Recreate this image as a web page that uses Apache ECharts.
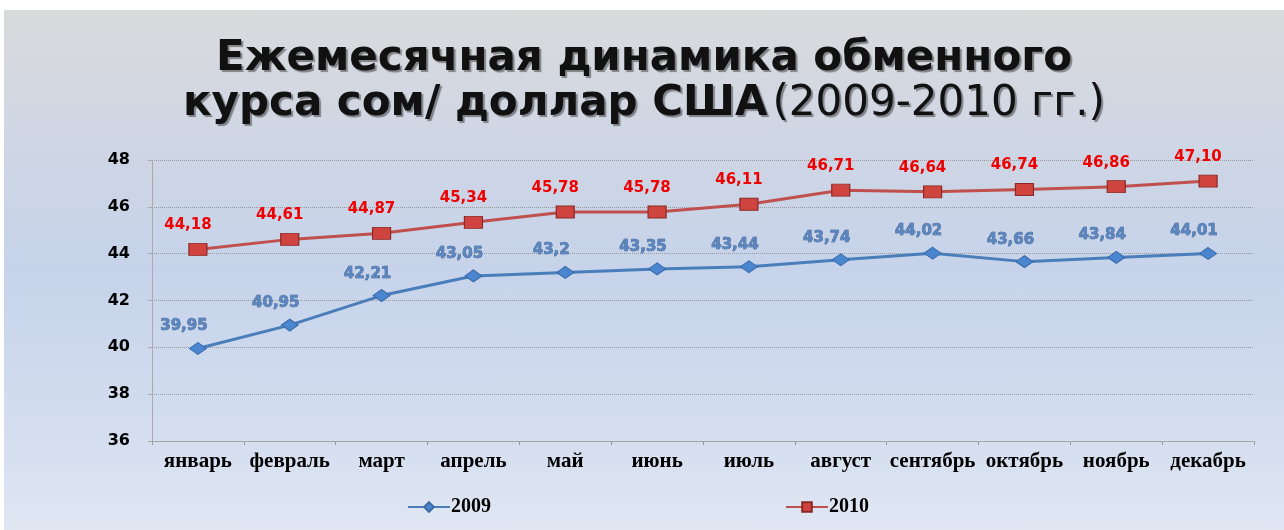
<!DOCTYPE html>
<html>
<head>
<meta charset="utf-8">
<script src="https://cdn.jsdelivr.net/npm/echarts@6/dist/echarts.min.js"></script>
<style>
  html, body { margin: 0; padding: 0; background: #fff; }
  #chart {
    position: absolute; left: 4px; top: 10px; width: 1280px; height: 520px;
    background: linear-gradient(to bottom, #d9dadc 0%, #cfd6e4 25%, #c6d3ea 50%, #d3ddef 80%, #e0e7f3 100%);
  }
</style>
</head>
<body>
<div id="chart"></div>
<script>
// месяцы
var months = ['январь', 'февраль', 'март', 'апрель', 'май', 'июнь', 'июль', 'август', 'сентябрь', 'октябрь', 'ноябрь', 'декабрь']
// курс сом/доллар
var rate2009 = [39.95, 40.95, 42.21, 43.05, 43.2, 43.35, 43.44, 43.74, 44.02, 43.66, 43.84, 44.01]
var rate2010 = [44.18, 44.61, 44.87, 45.34, 45.78, 45.78, 46.11, 46.71, 46.64, 46.74, 46.86, 47.10]
var labels2010 = ['44,18', '44,61', '44,87', '45,34', '45,78', '45,78', '46,11', '46,71', '46,64', '46,74', '46,86', '47,10']

var myChart = echarts.init(document.getElementById('chart'))

var shadow = { textShadowColor: 'rgba(0,0,0,0.4)', textShadowOffsetX: 2, textShadowOffsetY: 2, textShadowBlur: 1 }

var option = {
  animation: false,
  title: {
    text: '{b|Ежемесячная динамика обменного}\n{b|курса сом/ доллар США} {n|(2009-2010 гг.)}',
    left: 'center',
    top: 22,
    textStyle: {
      rich: {
        b: Object.assign({ fontFamily: 'DejaVu Sans', fontWeight: 'bold', fontSize: 42, color: '#111', lineHeight: 45 }, shadow),
        n: Object.assign({ fontFamily: 'DejaVu Sans', fontWeight: 'normal', fontSize: 42, color: '#111', lineHeight: 45 }, shadow)
      }
    }
  },
  grid: {
    left: 148,
    right: 30,
    top: 150,
    bottom: 89
  },
  legend: [
    {
      data: ['2009'],
      left: 398,
      bottom: 8,
      itemWidth: 42,
      itemHeight: 12,
      textStyle: { fontFamily: 'Liberation Serif', fontWeight: 'bold', fontSize: 20, color: '#000', padding: [0, 0, 0, -4] }
    },
    {
      data: ['2010'],
      left: 776,
      bottom: 8,
      itemWidth: 42,
      itemHeight: 12,
      textStyle: { fontFamily: 'Liberation Serif', fontWeight: 'bold', fontSize: 20, color: '#000', padding: [0, 0, 0, -4] }
    }
  ],
  xAxis: {
    type: 'category',
    data: months,
    boundaryGap: true,
    axisLine: { lineStyle: { color: '#9a9a9a', type: 'dotted' } },
    axisTick: { show: true, length: 4, lineStyle: { color: '#9a9a9a' } },
    axisLabel: {
      color: '#000',
      fontFamily: 'Liberation Serif',
      fontWeight: 'bold',
      fontSize: 21,
      margin: 10,
      interval: 0
    }
  },
  yAxis: {
    type: 'value',
    min: 36,
    max: 48,
    interval: 2,
    axisLine: { show: true, lineStyle: { color: '#aaa' } },
    axisTick: { show: true, length: 4, lineStyle: { color: '#aaa' } },
    axisLabel: {
      color: '#000',
      fontFamily: 'DejaVu Sans',
      fontWeight: 'bold',
      fontSize: 16,
      margin: 22
    },
    splitLine: { lineStyle: { color: '#999', type: 'dotted' } }
  },
  series: [
    {
      name: '2009',
      type: 'line',
      data: rate2009,
      symbol: 'diamond',
      symbolSize: [17, 12],
      lineStyle: { color: '#4a7ebb', width: 3 },
      itemStyle: { color: '#4a86cf', borderColor: '#3a6aa8', borderWidth: 1 },
      label: {
        show: true,
        position: 'top',
        offset: [-14, -3],
        formatter: function (p) { return String(p.value).replace('.', ',') },
        fontFamily: 'DejaVu Sans',
        fontWeight: 'bold',
        fontSize: 15,
        color: '#5b86c0',
        textBorderColor: '#2f4f7a',
        textBorderWidth: 0.6
      }
    },
    {
      name: '2010',
      type: 'line',
      data: rate2010,
      symbol: 'rect',
      symbolSize: [18, 12],
      lineStyle: { color: '#c0504d', width: 3 },
      itemStyle: { color: '#d0443f', borderColor: '#8c2a27', borderWidth: 1 },
      label: {
        show: true,
        position: 'top',
        offset: [-10, -5],
        formatter: function (p) { return labels2010[p.dataIndex] },
        fontFamily: 'DejaVu Sans',
        fontWeight: 'bold',
        fontSize: 15,
        color: '#ee0000'
      }
    }
  ]
}

myChart.setOption(option)
</script>
</body>
</html>
